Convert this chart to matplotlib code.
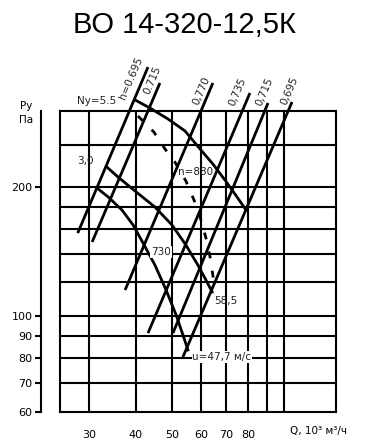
#!/usr/bin/env python3
"""
Fan chart VO 14-320-12.5K: pressure vs flow (log-log) with efficiency lines
"""

import matplotlib
matplotlib.use('Agg')
import matplotlib.pyplot as plt
from matplotlib import font_manager
from matplotlib.ticker import FixedLocator, FixedFormatter, NullLocator

# grid / ticks
GRID_Q = [30, 40, 50, 60, 70, 80, 90, 100]
GRID_P = [70, 80, 90, 100, 120, 140, 160, 180, 200, 250]
TICK_Q = [30, 40, 50, 60, 70, 80]
TICK_P = [60, 70, 80, 90, 100, 200]

# efficiency lines (straight on log-log), low and high ends
ETA_LABELS = ["h=0.695", "0.715", "0,770", "0,735", "0,715", "0,695"]
ETA_Q_LOW = [27.9, 30.5, 37.4, 43.1, 50.3, 53.5]
ETA_P_LOW = [156.2, 148.9, 115.2, 91.5, 91.5, 80.5]
ETA_Q_HIGH = [43.1, 46.4, 64.4, 81.0, 90.6, 105.1]
ETA_P_HIGH = [379.5, 348.5, 348.5, 330.3, 313.1, 314.8]

# characteristic curves
N880_Q = [39.8, 43.6, 48.8, 54.2, 59.5, 64.4, 69.4, 74.8, 79.1]
N880_P = [318.2, 304.9, 287.4, 269.6, 244.8, 226.0, 207.4, 189.4, 176.6]
MID_Q = [33.4, 35.8, 39.8, 45.0, 50.0, 54.5, 58.7, 61.7, 64.1]
MID_P = [222.4, 210.8, 195.5, 179.5, 163.1, 146.5, 131.6, 121.5, 114.0]
N730_Q = [31.4, 33.7, 36.7, 39.3, 41.8, 45.0, 48.2, 51.3, 53.5, 55.2]
N730_P = [198.8, 189.4, 176.6, 163.1, 148.1, 131.6, 115.2, 100.8, 90.6, 83.6]

# dashed optimum line
OPT_Q = [40.5, 44.7, 47.9, 50.9, 54.5, 57.3, 59.5, 61.7, 63.3, 64.8]
OPT_P = [292.1, 268.1, 244.8, 228.4, 206.3, 186.4, 170.2, 152.1, 137.4, 120.2]


def pick_font():
    names = {f.name for f in font_manager.fontManager.ttflist}
    for name in ['Liberation Sans Narrow', 'DejaVu Sans Condensed']:
        if name in names:
            return name
    return 'DejaVu Sans'


def main():
    small = pick_font()
    fig = plt.figure(figsize=(3.65, 4.48), dpi=100)
    ax = fig.add_axes([60 / 365, 1 - 412 / 448, 276 / 365, 301 / 448])
    ax.set_xscale('log')
    ax.set_yscale('log')
    ax.set_xlim(25, 138)
    ax.set_ylim(60, 300)

    lw_grid = 1.5
    for q in GRID_Q:
        ax.axvline(q, color='black', lw=lw_grid)
    for p in GRID_P:
        ax.axhline(p, color='black', lw=lw_grid)
    # left border of the box (the y spine is moved out)
    ax.axvline(25, color='black', lw=lw_grid, clip_on=False)

    for s in ['top', 'right', 'bottom']:
        ax.spines[s].set_linewidth(lw_grid)
    ax.spines['left'].set_position(('outward', 13.7))
    ax.spines['left'].set_linewidth(1.5)

    ax.xaxis.set_major_locator(FixedLocator(TICK_Q))
    ax.xaxis.set_major_formatter(FixedFormatter([str(v) for v in TICK_Q]))
    ax.xaxis.set_minor_locator(NullLocator())
    ax.yaxis.set_major_locator(FixedLocator(TICK_P))
    ax.yaxis.set_major_formatter(FixedFormatter([str(v) for v in TICK_P]))
    ax.yaxis.set_minor_locator(NullLocator())
    ax.tick_params(axis='x', length=0, pad=13, labelsize=8)
    ax.tick_params(axis='y', direction='out', length=4, width=1.5, pad=2, labelsize=8)

    # efficiency lines
    for ql, pl, qh, ph in zip(ETA_Q_LOW, ETA_P_LOW, ETA_Q_HIGH, ETA_P_HIGH):
        ax.plot([ql, qh], [pl, ph], color='black', lw=2.0, clip_on=False,
                solid_capstyle='butt')

    # characteristic curves
    for qs, ps in [(N880_Q, N880_P), (MID_Q, MID_P), (N730_Q, N730_P)]:
        ax.plot(qs, ps, color='black', lw=2.0, clip_on=False,
                solid_joinstyle='round')
    ax.plot(OPT_Q, OPT_P, color='black', lw=2.0, dashes=(2.5, 4.5))

    txt = dict(fontsize=7.5, family=small, color='#222222', ha='center', va='center')
    # line labels along the efficiency lines
    label_pos = [(38.8, 357.9), (44.2, 354.0), (60.2, 333.9),
                 (74.8, 332.1), (88.9, 332.1), (103.8, 333.9)]
    for lab, (x, y) in zip(ETA_LABELS, label_pos):
        ax.text(x, y, lab, rotation=67, clip_on=False, **txt)

    ax.text(31.4, 316.5, "Ny=5.5", clip_on=False, **txt)
    ax.text(29.2, 229.6, "3,0", **txt)
    ax.text(58.0, 216.5, "n=880", **txt)
    white = dict(facecolor='white', edgecolor='none', pad=0.5)
    ax.text(46.7, 141.2, "730", bbox=white, **txt)
    ax.text(69.9, 108.6, "58,5", **txt)
    ax.text(68.1, 80.5, "u=47,7 м/с", bbox=white, **txt)

    fig.text(26 / 365, 1 - 106 / 448, "Ру", ha='center', va='center', fontsize=7.5, family=small)
    fig.text(26 / 365, 1 - 120 / 448, "Па", ha='center', va='center', fontsize=7.5, family=small)
    fig.text(318 / 365, 1 - 431 / 448, "Q, 10³ м³/ч", ha='center', va='center',
             fontsize=7.5, family=small)

    fig.text(184 / 365, 1 - 25 / 448, "ВО 14-320-12,5К", ha='center', va='center',
             fontsize=21, family='Liberation Sans')

    fig.savefig('out.png', dpi=100)
    plt.close(fig)


if __name__ == '__main__':
    main()
